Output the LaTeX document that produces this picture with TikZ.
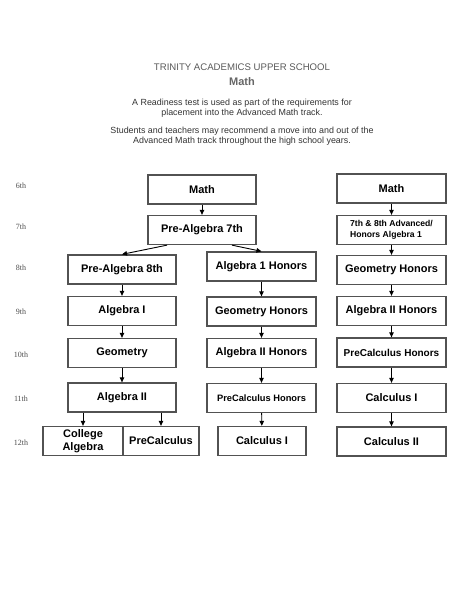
\documentclass[tikz,border=0pt]{standalone}
\usepackage{fontspec}
\setmainfont{Liberation Sans}
\newfontfamily\gradefont{Liberation Serif}
\usetikzlibrary{arrows.meta,calc}

\begin{document}
\begin{tikzpicture}[
    x=1pt, y=-1pt,
    course/.style={draw=black!68, line width=1.3pt, fill=white, minimum width=108pt, minimum height=29pt, align=center, inner sep=1pt, font=\bfseries\fontsize{11}{12.5}\selectfont},
    grade/.style={font=\gradefont\fontsize{8}{9}\selectfont, text=black!70},
    note/.style={align=center, font=\fontsize{8.9}{10}\selectfont, text=black!80},
    arr/.style={-{Triangle[length=5pt,width=4.5pt]}, line width=0.9pt}
]
\useasboundingbox (0,0) rectangle (474,613);

\node[font=\fontsize{9.6}{11}\selectfont, text=black!65] (school) at (242,67) {TRINITY ACADEMICS UPPER SCHOOL};
\node[font=\bfseries\fontsize{11}{12}\selectfont, text=black!60] (subject) at (242,82) {Math};
\node[note] (readiness) at (242,108) {A Readiness test is used as part of the requirements for\\placement into the Advanced Math track.};
\node[note] (recommend) at (242,136.5) {Students and teachers may recommend a move into and out of the\\Advanced Math track throughout the high school years.};

\node[grade] (g6) at (21,186) {6th};
\node[grade] (g7) at (21,227) {7th};
\node[grade] (g8) at (21,268) {8th};
\node[grade] (g9) at (21,312) {9th};
\node[grade] (g10) at (21,355) {10th};
\node[grade] (g11) at (21,399) {11th};
\node[grade] (g12) at (21,443) {12th};

\node[course] (math) at (202,189.5) {Math};
\node[course] (pa7) at (202,230) {Pre-Algebra 7th};
\node[course] (pa8) at (122,269.5) {Pre-Algebra 8th};
\node[course] (alg1) at (122,311) {Algebra I};
\node[course] (geo) at (122,353) {Geometry};
\node[course] (alg2) at (122,397.5) {Algebra II};
\node[course, minimum width=80pt, font=\bfseries\fontsize{11}{12.5}\selectfont] (colalg) at (83,441) {College\\Algebra};
\node[course, minimum width=76pt] (precalc) at (161,441) {PreCalculus};

\node[course, minimum width=109pt] (alg1h) at (261.5,266.5) {Algebra 1 Honors};
\node[course, minimum width=109pt] (geoh) at (261.5,311.5) {Geometry Honors};
\node[course, minimum width=109pt] (alg2h) at (261.5,353) {Algebra II Honors};
\node[course, minimum width=109pt, font=\bfseries\fontsize{9.3}{11}\selectfont] (pch) at (261.5,398) {PreCalculus Honors};
\node[course, minimum width=88pt] (calc1) at (262,441) {Calculus I};

\node[course, minimum width=109pt] (amath) at (391.5,188.5) {Math};
\node[course, minimum width=109pt, align=left, font=\bfseries\fontsize{8.6}{11}\selectfont] (adv) at (391.5,230) {7th \& 8th Advanced/\\Honors Algebra 1};
\node[course, minimum width=109pt] (ageoh) at (391.5,270) {Geometry Honors};
\node[course, minimum width=109pt] (aalg2h) at (391.5,311) {Algebra II Honors};
\node[course, minimum width=109pt, font=\bfseries\fontsize{10}{11}\selectfont] (apch) at (391.5,352.5) {PreCalculus Honors};
\node[course, minimum width=109pt] (acalc1) at (391.5,398) {Calculus I};
\node[course, minimum width=109pt] (acalc2) at (391.5,441.5) {Calculus II};

\draw[arr] (math) -- (pa7);
\draw[arr] ($(pa7.south)+(-35,0)$) -- (pa8.north);
\draw[arr] ($(pa7.south)+(30,0)$) -- (alg1h.north);
\draw[arr] (pa8) -- (alg1);
\draw[arr] (alg1) -- (geo);
\draw[arr] (geo) -- (alg2);
\draw[arr] (alg2.south -| colalg.north) -- (colalg.north);
\draw[arr] (alg2.south -| precalc.north) -- (precalc.north);
\draw[arr] (alg1h) -- (geoh);
\draw[arr] (geoh) -- (alg2h);
\draw[arr] (alg2h) -- (pch);
\draw[arr] (pch) -- (calc1);
\draw[arr] (amath) -- (adv);
\draw[arr] (adv) -- (ageoh);
\draw[arr] (ageoh) -- (aalg2h);
\draw[arr] (aalg2h) -- (apch);
\draw[arr] (apch) -- (acalc1);
\draw[arr] (acalc1) -- (acalc2);
\end{tikzpicture}
\end{document}
